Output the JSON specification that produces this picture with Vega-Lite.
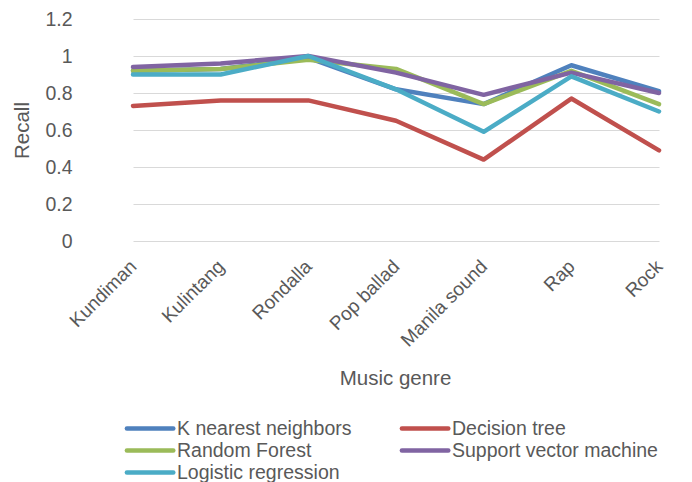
{
  "$schema": "https://vega.github.io/schema/vega-lite/v6.json",
  "autosize": "none",
  "width": 603,
  "height": 222,
  "padding": {"left": 89, "top": 19, "right": 0, "bottom": 241},
  "background": "white",
  "config": {
    "font": "Liberation Sans",
    "view": {"stroke": null},
    "axis": {"labelColor": "#595959", "titleColor": "#595959", "labelFont": "Liberation Sans", "titleFont": "Liberation Sans", "titleFontWeight": "normal"}
  },
  "data": {
    "values": [
      {"genre": "Kundiman", "model": "K nearest neighbors", "recall": 0.92},
      {"genre": "Kulintang", "model": "K nearest neighbors", "recall": 0.93},
      {"genre": "Rondalla", "model": "K nearest neighbors", "recall": 0.99},
      {"genre": "Pop ballad", "model": "K nearest neighbors", "recall": 0.82},
      {"genre": "Manila sound", "model": "K nearest neighbors", "recall": 0.74},
      {"genre": "Rap", "model": "K nearest neighbors", "recall": 0.95},
      {"genre": "Rock", "model": "K nearest neighbors", "recall": 0.81},
      {"genre": "Kundiman", "model": "Decision tree", "recall": 0.73},
      {"genre": "Kulintang", "model": "Decision tree", "recall": 0.76},
      {"genre": "Rondalla", "model": "Decision tree", "recall": 0.76},
      {"genre": "Pop ballad", "model": "Decision tree", "recall": 0.65},
      {"genre": "Manila sound", "model": "Decision tree", "recall": 0.44},
      {"genre": "Rap", "model": "Decision tree", "recall": 0.77},
      {"genre": "Rock", "model": "Decision tree", "recall": 0.49},
      {"genre": "Kundiman", "model": "Random Forest", "recall": 0.92},
      {"genre": "Kulintang", "model": "Random Forest", "recall": 0.93},
      {"genre": "Rondalla", "model": "Random Forest", "recall": 0.98},
      {"genre": "Pop ballad", "model": "Random Forest", "recall": 0.93},
      {"genre": "Manila sound", "model": "Random Forest", "recall": 0.74},
      {"genre": "Rap", "model": "Random Forest", "recall": 0.92},
      {"genre": "Rock", "model": "Random Forest", "recall": 0.74},
      {"genre": "Kundiman", "model": "Support vector machine", "recall": 0.94},
      {"genre": "Kulintang", "model": "Support vector machine", "recall": 0.96},
      {"genre": "Rondalla", "model": "Support vector machine", "recall": 1.0},
      {"genre": "Pop ballad", "model": "Support vector machine", "recall": 0.91},
      {"genre": "Manila sound", "model": "Support vector machine", "recall": 0.79},
      {"genre": "Rap", "model": "Support vector machine", "recall": 0.91},
      {"genre": "Rock", "model": "Support vector machine", "recall": 0.80},
      {"genre": "Kundiman", "model": "Logistic regression", "recall": 0.90},
      {"genre": "Kulintang", "model": "Logistic regression", "recall": 0.90},
      {"genre": "Rondalla", "model": "Logistic regression", "recall": 1.0},
      {"genre": "Pop ballad", "model": "Logistic regression", "recall": 0.82},
      {"genre": "Manila sound", "model": "Logistic regression", "recall": 0.59},
      {"genre": "Rap", "model": "Logistic regression", "recall": 0.89},
      {"genre": "Rock", "model": "Logistic regression", "recall": 0.70}
    ]
  },
  "mark": {"type": "line", "strokeWidth": 4.5, "strokeJoin": "round", "strokeCap": "round"},
  "encoding": {
    "x": {
      "field": "genre",
      "type": "ordinal",
      "sort": null,
      "scale": {"type": "point", "range": [44, 570], "padding": 0},
      "axis": {
        "title": "Music genre",
        "titleFontSize": 20.5,
        "titlePadding": 19,
        "titleX": 306,
        "labelAngle": -45,
        "labelAlign": "right",
        "labelBaseline": "middle",
        "labelFontSize": 19,
        "labelPadding": 22,
        "ticks": false,
        "domain": false,
        "grid": false
      }
    },
    "y": {
      "field": "recall",
      "type": "quantitative",
      "scale": {"domain": [0, 1.2], "nice": false},
      "axis": {
        "title": "Recall",
        "titleFontSize": 20.5,
        "titlePadding": 12,
        "values": [0, 0.2, 0.4, 0.6, 0.8, 1, 1.2],
        "format": "~g",
        "labelFontSize": 19.5,
        "labelPadding": 17,
        "ticks": false,
        "domain": false,
        "gridColor": "#D9D9D9",
        "gridWidth": 1.2
      }
    },
    "color": {
      "field": "model",
      "type": "nominal",
      "sort": null,
      "scale": {
        "domain": ["K nearest neighbors", "Decision tree", "Random Forest", "Support vector machine", "Logistic regression"],
        "range": ["#4F81BD", "#C0504D", "#9BBB59", "#8064A2", "#4BACC6"]
      },
      "legend": {
        "title": null,
        "orient": "none",
        "direction": "horizontal",
        "legendX": 37,
        "legendY": 399,
        "columns": 2,
        "columnPadding": 40,
        "rowPadding": 2,
        "symbolType": "M-1.2,0H4.6",
        "symbolSize": 256,
        "symbolStrokeWidth": 4.5,
        "labelFontSize": 19.5,
        "labelColor": "#595959",
        "labelOffset": 30,
        "labelLimit": 300,
        "encode": {"symbols": {"update": {"strokeCap": {"value": "round"}}}}
      }
    }
  }
}
